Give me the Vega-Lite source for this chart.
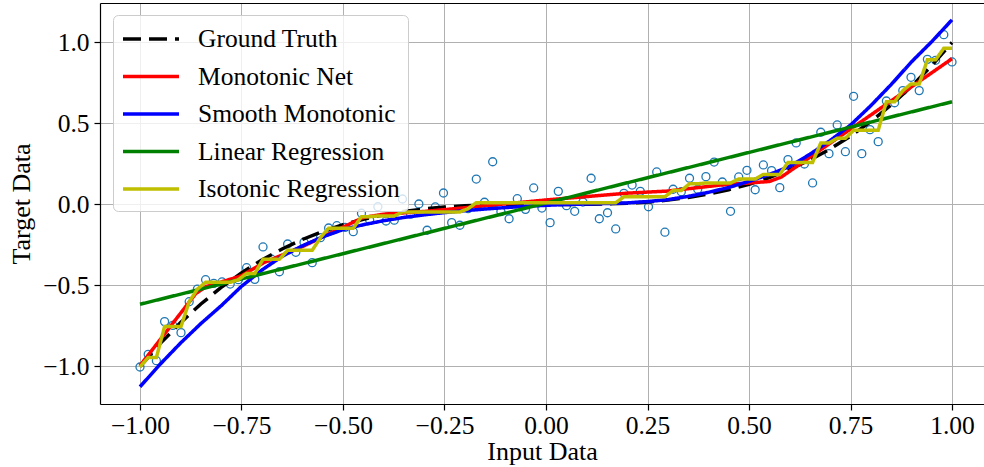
{
  "$schema": "https://vega.github.io/schema/vega-lite/v6.json",
  "width": 884,
  "height": 401,
  "autosize": {"type": "none"},
  "padding": {"left": 100, "top": 3, "right": 0, "bottom": 63},
  "background": "white",
  "config": {
    "view": {"stroke": null},
    "font": "Liberation Serif",
    "axis": {
      "labelFont": "Liberation Serif",
      "labelFontSize": 25.5,
      "labelColor": "#000000",
      "titleFont": "Liberation Serif",
      "titleFontSize": 26,
      "titleFontWeight": "normal",
      "titleColor": "#000000",
      "gridColor": "#b0b0b0",
      "gridWidth": 1,
      "domainColor": "#000000",
      "domainWidth": 1.2,
      "tickColor": "#000000",
      "tickSize": 6,
      "tickWidth": 1.2
    }
  },
  "datasets": {
    "pts": [
      {"x": -1.0, "y": -1.003}, {"x": -0.9798, "y": -0.925}, {"x": -0.9596, "y": -0.964}, {"x": -0.9394, "y": -0.723}, {"x": -0.9192, "y": -0.746},
      {"x": -0.899, "y": -0.791}, {"x": -0.8788, "y": -0.6}, {"x": -0.8586, "y": -0.522}, {"x": -0.8384, "y": -0.464}, {"x": -0.8182, "y": -0.487},
      {"x": -0.798, "y": -0.478}, {"x": -0.7778, "y": -0.491}, {"x": -0.7576, "y": -0.464}, {"x": -0.7374, "y": -0.39}, {"x": -0.7172, "y": -0.462},
      {"x": -0.697, "y": -0.262}, {"x": -0.6768, "y": -0.336}, {"x": -0.6566, "y": -0.415}, {"x": -0.6364, "y": -0.244}, {"x": -0.6162, "y": -0.295},
      {"x": -0.596, "y": -0.233}, {"x": -0.5758, "y": -0.359}, {"x": -0.5556, "y": -0.205}, {"x": -0.5354, "y": -0.145}, {"x": -0.5152, "y": -0.131},
      {"x": -0.4949, "y": -0.141}, {"x": -0.4747, "y": -0.168}, {"x": -0.4545, "y": -0.054}, {"x": -0.4343, "y": -0.096}, {"x": -0.4141, "y": -0.014},
      {"x": -0.3939, "y": -0.102}, {"x": -0.3737, "y": -0.097}, {"x": -0.3535, "y": 0.034}, {"x": -0.3333, "y": -0.06}, {"x": -0.3131, "y": 0.003},
      {"x": -0.2929, "y": -0.159}, {"x": -0.2727, "y": -0.015}, {"x": -0.2525, "y": 0.071}, {"x": -0.2323, "y": -0.112}, {"x": -0.2121, "y": -0.128},
      {"x": -0.1919, "y": -0.026}, {"x": -0.1717, "y": 0.157}, {"x": -0.1515, "y": 0.014}, {"x": -0.1313, "y": 0.264}, {"x": -0.1111, "y": -0.044},
      {"x": -0.0909, "y": -0.088}, {"x": -0.0707, "y": 0.036}, {"x": -0.0505, "y": -0.03}, {"x": -0.0303, "y": 0.102}, {"x": -0.0101, "y": -0.022},
      {"x": 0.0101, "y": -0.112}, {"x": 0.0303, "y": 0.081}, {"x": 0.0505, "y": -0.007}, {"x": 0.0707, "y": -0.042}, {"x": 0.0909, "y": 0.015},
      {"x": 0.1111, "y": 0.162}, {"x": 0.1313, "y": -0.088}, {"x": 0.1515, "y": -0.051}, {"x": 0.1717, "y": -0.151}, {"x": 0.1919, "y": 0.069},
      {"x": 0.2121, "y": 0.12}, {"x": 0.2323, "y": 0.081}, {"x": 0.2525, "y": -0.014}, {"x": 0.2727, "y": 0.201}, {"x": 0.2929, "y": -0.171},
      {"x": 0.3131, "y": 0.094}, {"x": 0.3333, "y": 0.079}, {"x": 0.3535, "y": 0.162}, {"x": 0.3737, "y": 0.094}, {"x": 0.3939, "y": 0.172},
      {"x": 0.4141, "y": 0.262}, {"x": 0.4343, "y": 0.139}, {"x": 0.4545, "y": -0.042}, {"x": 0.4747, "y": 0.17}, {"x": 0.4949, "y": 0.211},
      {"x": 0.5152, "y": 0.091}, {"x": 0.5354, "y": 0.244}, {"x": 0.5556, "y": 0.209}, {"x": 0.5758, "y": 0.104}, {"x": 0.596, "y": 0.277},
      {"x": 0.6162, "y": 0.38}, {"x": 0.6364, "y": 0.25}, {"x": 0.6566, "y": 0.133}, {"x": 0.6768, "y": 0.446}, {"x": 0.697, "y": 0.314},
      {"x": 0.7172, "y": 0.491}, {"x": 0.7374, "y": 0.326}, {"x": 0.7576, "y": 0.668}, {"x": 0.7778, "y": 0.314}, {"x": 0.798, "y": 0.462},
      {"x": 0.8182, "y": 0.388}, {"x": 0.8384, "y": 0.639}, {"x": 0.8586, "y": 0.628}, {"x": 0.8788, "y": 0.703}, {"x": 0.899, "y": 0.785},
      {"x": 0.9192, "y": 0.703}, {"x": 0.9394, "y": 0.896}, {"x": 0.9596, "y": 0.89}, {"x": 0.9798, "y": 1.048}, {"x": 1.0, "y": 0.88}
    ],
    "lines": [
      {"series": "Ground Truth", "x": -1.0, "y": -1.0}, {"series": "Ground Truth", "x": -0.95, "y": -0.8574}, {"series": "Ground Truth", "x": -0.9, "y": -0.729},
      {"series": "Ground Truth", "x": -0.85, "y": -0.6141}, {"series": "Ground Truth", "x": -0.8, "y": -0.512}, {"series": "Ground Truth", "x": -0.75, "y": -0.4219},
      {"series": "Ground Truth", "x": -0.7, "y": -0.343}, {"series": "Ground Truth", "x": -0.65, "y": -0.2746}, {"series": "Ground Truth", "x": -0.6, "y": -0.216},
      {"series": "Ground Truth", "x": -0.55, "y": -0.1664}, {"series": "Ground Truth", "x": -0.5, "y": -0.125}, {"series": "Ground Truth", "x": -0.45, "y": -0.0911},
      {"series": "Ground Truth", "x": -0.4, "y": -0.064}, {"series": "Ground Truth", "x": -0.35, "y": -0.0429}, {"series": "Ground Truth", "x": -0.3, "y": -0.027},
      {"series": "Ground Truth", "x": -0.25, "y": -0.0156}, {"series": "Ground Truth", "x": -0.2, "y": -0.008}, {"series": "Ground Truth", "x": -0.15, "y": -0.0034},
      {"series": "Ground Truth", "x": -0.1, "y": -0.001}, {"series": "Ground Truth", "x": -0.05, "y": -0.0001}, {"series": "Ground Truth", "x": 0.0, "y": 0.0},
      {"series": "Ground Truth", "x": 0.05, "y": 0.0001}, {"series": "Ground Truth", "x": 0.1, "y": 0.001}, {"series": "Ground Truth", "x": 0.15, "y": 0.0034},
      {"series": "Ground Truth", "x": 0.2, "y": 0.008}, {"series": "Ground Truth", "x": 0.25, "y": 0.0156}, {"series": "Ground Truth", "x": 0.3, "y": 0.027},
      {"series": "Ground Truth", "x": 0.35, "y": 0.0429}, {"series": "Ground Truth", "x": 0.4, "y": 0.064}, {"series": "Ground Truth", "x": 0.45, "y": 0.0911},
      {"series": "Ground Truth", "x": 0.5, "y": 0.125}, {"series": "Ground Truth", "x": 0.55, "y": 0.1664}, {"series": "Ground Truth", "x": 0.6, "y": 0.216},
      {"series": "Ground Truth", "x": 0.65, "y": 0.2746}, {"series": "Ground Truth", "x": 0.7, "y": 0.343}, {"series": "Ground Truth", "x": 0.75, "y": 0.4219},
      {"series": "Ground Truth", "x": 0.8, "y": 0.512}, {"series": "Ground Truth", "x": 0.85, "y": 0.6141}, {"series": "Ground Truth", "x": 0.9, "y": 0.729},
      {"series": "Ground Truth", "x": 0.95, "y": 0.8574}, {"series": "Ground Truth", "x": 1.0, "y": 1.0},

      {"series": "Monotonic Net", "x": -1.0, "y": -0.995}, {"series": "Monotonic Net", "x": -0.862, "y": -0.548}, {"series": "Monotonic Net", "x": -0.837, "y": -0.507},
      {"series": "Monotonic Net", "x": -0.75, "y": -0.44}, {"series": "Monotonic Net", "x": -0.696, "y": -0.36}, {"series": "Monotonic Net", "x": -0.6, "y": -0.26},
      {"series": "Monotonic Net", "x": -0.5, "y": -0.14}, {"series": "Monotonic Net", "x": -0.45, "y": -0.08}, {"series": "Monotonic Net", "x": -0.4, "y": -0.06},
      {"series": "Monotonic Net", "x": -0.3, "y": -0.043}, {"series": "Monotonic Net", "x": -0.2, "y": -0.02}, {"series": "Monotonic Net", "x": 0.0, "y": 0.028},
      {"series": "Monotonic Net", "x": 0.2, "y": 0.07}, {"series": "Monotonic Net", "x": 0.3, "y": 0.083}, {"series": "Monotonic Net", "x": 0.43, "y": 0.12},
      {"series": "Monotonic Net", "x": 0.55, "y": 0.142}, {"series": "Monotonic Net", "x": 0.58, "y": 0.17}, {"series": "Monotonic Net", "x": 1.0, "y": 0.9},

      {"series": "Smooth Monotonic", "x": -1.0, "y": -1.125}, {"series": "Smooth Monotonic", "x": -0.95, "y": -0.985}, {"series": "Smooth Monotonic", "x": -0.9, "y": -0.855},
      {"series": "Smooth Monotonic", "x": -0.85, "y": -0.735}, {"series": "Smooth Monotonic", "x": -0.8, "y": -0.625}, {"series": "Smooth Monotonic", "x": -0.75, "y": -0.505},
      {"series": "Smooth Monotonic", "x": -0.7, "y": -0.405}, {"series": "Smooth Monotonic", "x": -0.65, "y": -0.32}, {"series": "Smooth Monotonic", "x": -0.6, "y": -0.255},
      {"series": "Smooth Monotonic", "x": -0.55, "y": -0.2}, {"series": "Smooth Monotonic", "x": -0.5, "y": -0.155}, {"series": "Smooth Monotonic", "x": -0.45, "y": -0.125},
      {"series": "Smooth Monotonic", "x": -0.4, "y": -0.1}, {"series": "Smooth Monotonic", "x": -0.35, "y": -0.08}, {"series": "Smooth Monotonic", "x": -0.3, "y": -0.064},
      {"series": "Smooth Monotonic", "x": -0.25, "y": -0.05}, {"series": "Smooth Monotonic", "x": -0.2, "y": -0.038}, {"series": "Smooth Monotonic", "x": -0.15, "y": -0.028},
      {"series": "Smooth Monotonic", "x": -0.1, "y": -0.019}, {"series": "Smooth Monotonic", "x": -0.05, "y": -0.011}, {"series": "Smooth Monotonic", "x": 0.0, "y": -0.005},
      {"series": "Smooth Monotonic", "x": 0.05, "y": 0.0}, {"series": "Smooth Monotonic", "x": 0.1, "y": 0.003}, {"series": "Smooth Monotonic", "x": 0.15, "y": 0.006},
      {"series": "Smooth Monotonic", "x": 0.2, "y": 0.01}, {"series": "Smooth Monotonic", "x": 0.25, "y": 0.018}, {"series": "Smooth Monotonic", "x": 0.3, "y": 0.03},
      {"series": "Smooth Monotonic", "x": 0.35, "y": 0.05}, {"series": "Smooth Monotonic", "x": 0.4, "y": 0.075}, {"series": "Smooth Monotonic", "x": 0.45, "y": 0.105},
      {"series": "Smooth Monotonic", "x": 0.5, "y": 0.143}, {"series": "Smooth Monotonic", "x": 0.55, "y": 0.185}, {"series": "Smooth Monotonic", "x": 0.6, "y": 0.235},
      {"series": "Smooth Monotonic", "x": 0.65, "y": 0.31}, {"series": "Smooth Monotonic", "x": 0.7, "y": 0.395}, {"series": "Smooth Monotonic", "x": 0.75, "y": 0.49},
      {"series": "Smooth Monotonic", "x": 0.8, "y": 0.61}, {"series": "Smooth Monotonic", "x": 0.85, "y": 0.74}, {"series": "Smooth Monotonic", "x": 0.9, "y": 0.88},
      {"series": "Smooth Monotonic", "x": 0.95, "y": 1.005}, {"series": "Smooth Monotonic", "x": 1.0, "y": 1.14},

      {"series": "Linear Regression", "x": -1.0, "y": -0.616}, {"series": "Linear Regression", "x": 1.0, "y": 0.634},

      {"series": "Isotonic Regression", "x": -1.0, "y": -1.003},
      {"series": "Isotonic Regression", "x": -0.9798, "y": -0.9445}, {"series": "Isotonic Regression", "x": -0.9596, "y": -0.9445},
      {"series": "Isotonic Regression", "x": -0.9394, "y": -0.7533}, {"series": "Isotonic Regression", "x": -0.899, "y": -0.7533},
      {"series": "Isotonic Regression", "x": -0.8788, "y": -0.6},
      {"series": "Isotonic Regression", "x": -0.8586, "y": -0.522},
      {"series": "Isotonic Regression", "x": -0.8384, "y": -0.48}, {"series": "Isotonic Regression", "x": -0.7778, "y": -0.48},
      {"series": "Isotonic Regression", "x": -0.7576, "y": -0.464},
      {"series": "Isotonic Regression", "x": -0.7374, "y": -0.426}, {"series": "Isotonic Regression", "x": -0.7172, "y": -0.426},
      {"series": "Isotonic Regression", "x": -0.697, "y": -0.3377}, {"series": "Isotonic Regression", "x": -0.6566, "y": -0.3377},
      {"series": "Isotonic Regression", "x": -0.6364, "y": -0.2828}, {"series": "Isotonic Regression", "x": -0.5758, "y": -0.2828},
      {"series": "Isotonic Regression", "x": -0.5556, "y": -0.205},
      {"series": "Isotonic Regression", "x": -0.5354, "y": -0.1463}, {"series": "Isotonic Regression", "x": -0.4747, "y": -0.1463},
      {"series": "Isotonic Regression", "x": -0.4545, "y": -0.075}, {"series": "Isotonic Regression", "x": -0.4343, "y": -0.075},
      {"series": "Isotonic Regression", "x": -0.4141, "y": -0.071}, {"series": "Isotonic Regression", "x": -0.3737, "y": -0.071},
      {"series": "Isotonic Regression", "x": -0.3535, "y": -0.0458}, {"series": "Isotonic Regression", "x": -0.2121, "y": -0.0458},
      {"series": "Isotonic Regression", "x": -0.1919, "y": -0.026},
      {"series": "Isotonic Regression", "x": -0.1717, "y": 0.0109}, {"series": "Isotonic Regression", "x": 0.1717, "y": 0.0109},
      {"series": "Isotonic Regression", "x": 0.1919, "y": 0.0477}, {"series": "Isotonic Regression", "x": 0.2929, "y": 0.0477},
      {"series": "Isotonic Regression", "x": 0.3131, "y": 0.0865}, {"series": "Isotonic Regression", "x": 0.3333, "y": 0.0865},
      {"series": "Isotonic Regression", "x": 0.3535, "y": 0.128}, {"series": "Isotonic Regression", "x": 0.3737, "y": 0.128},
      {"series": "Isotonic Regression", "x": 0.3939, "y": 0.1328}, {"series": "Isotonic Regression", "x": 0.4545, "y": 0.1328},
      {"series": "Isotonic Regression", "x": 0.4747, "y": 0.1573}, {"series": "Isotonic Regression", "x": 0.5152, "y": 0.1573},
      {"series": "Isotonic Regression", "x": 0.5354, "y": 0.1857}, {"series": "Isotonic Regression", "x": 0.5758, "y": 0.1857},
      {"series": "Isotonic Regression", "x": 0.596, "y": 0.26}, {"series": "Isotonic Regression", "x": 0.6566, "y": 0.26},
      {"series": "Isotonic Regression", "x": 0.6768, "y": 0.38}, {"series": "Isotonic Regression", "x": 0.697, "y": 0.38},
      {"series": "Isotonic Regression", "x": 0.7172, "y": 0.4085}, {"series": "Isotonic Regression", "x": 0.7374, "y": 0.4085},
      {"series": "Isotonic Regression", "x": 0.7576, "y": 0.458}, {"series": "Isotonic Regression", "x": 0.8182, "y": 0.458},
      {"series": "Isotonic Regression", "x": 0.8384, "y": 0.6335}, {"series": "Isotonic Regression", "x": 0.8586, "y": 0.6335},
      {"series": "Isotonic Regression", "x": 0.8788, "y": 0.703},
      {"series": "Isotonic Regression", "x": 0.899, "y": 0.744}, {"series": "Isotonic Regression", "x": 0.9192, "y": 0.744},
      {"series": "Isotonic Regression", "x": 0.9394, "y": 0.893}, {"series": "Isotonic Regression", "x": 0.9596, "y": 0.893},
      {"series": "Isotonic Regression", "x": 0.9798, "y": 0.964}, {"series": "Isotonic Regression", "x": 1.0, "y": 0.964}
    ]
  },
  "layer": [
    {
      "data": {"name": "pts"},
      "mark": {"type": "point", "shape": "circle", "filled": false, "size": 64, "strokeWidth": 1.3, "color": "#1f77b4", "opacity": 1, "clip": true},
      "encoding": {
        "x": {
          "field": "x", "type": "quantitative",
          "scale": {"domain": [-1.0985, 1.0788], "nice": false, "zero": false},
          "axis": {"values": [-1, -0.75, -0.5, -0.25, 0, 0.25, 0.5, 0.75, 1], "format": ".2f", "title": "Input Data", "labelPadding": 3, "titlePadding": 0}
        },
        "y": {
          "field": "y", "type": "quantitative",
          "scale": {"domain": [-1.2315, 1.2438], "nice": false, "zero": false},
          "axis": {"values": [-1, -0.5, 0, 0.5, 1], "format": ".1f", "title": "Target Data", "labelPadding": 5, "titlePadding": 8}
        }
      }
    },
    {
      "data": {"name": "lines"},
      "mark": {"type": "line", "strokeWidth": 3.5, "clip": true},
      "encoding": {
        "x": {
          "field": "x", "type": "quantitative",
          "axis": {"orient": "top", "labels": false, "ticks": false, "grid": false, "domain": true, "title": null}
        },
        "y": {"field": "y", "type": "quantitative"},
        "color": {
          "field": "series", "type": "nominal",
          "scale": {
            "domain": ["Ground Truth", "Monotonic Net", "Smooth Monotonic", "Linear Regression", "Isotonic Regression"],
            "range": ["#000000", "#ff0000", "#0000ff", "#008000", "#bfbf00"]
          },
          "legend": {
            "title": null, "orient": "none", "legendX": 13, "legendY": 12,
            "fillColor": "rgba(255,255,255,0.8)", "strokeColor": "#cccccc", "cornerRadius": 5, "padding": 8,
            "symbolType": "M-1,0H3", "symbolSize": 784, "symbolStrokeWidth": 3.5,
            "labelFont": "Liberation Serif", "labelFontSize": 25.5, "labelColor": "#000000", "labelOffset": 45,
            "rowPadding": 7.5, "labelLimit": 400
          }
        },
        "strokeDash": {
          "field": "series", "type": "nominal",
          "scale": {
            "domain": ["Ground Truth", "Monotonic Net", "Smooth Monotonic", "Linear Regression", "Isotonic Regression"],
            "range": [[18, 8], [1, 0], [1, 0], [1, 0], [1, 0]]
          },
          "legend": {
            "title": null, "orient": "none", "legendX": 13, "legendY": 12,
            "fillColor": "rgba(255,255,255,0.8)", "strokeColor": "#cccccc", "cornerRadius": 5, "padding": 8,
            "symbolType": "M-1,0H3", "symbolSize": 784, "symbolStrokeWidth": 3.5,
            "labelFont": "Liberation Serif", "labelFontSize": 25.5, "labelColor": "#000000", "labelOffset": 45,
            "rowPadding": 7.5, "labelLimit": 400
          }
        }
      }
    }
  ],
  "resolve": {"axis": {"x": "independent"}}
}
